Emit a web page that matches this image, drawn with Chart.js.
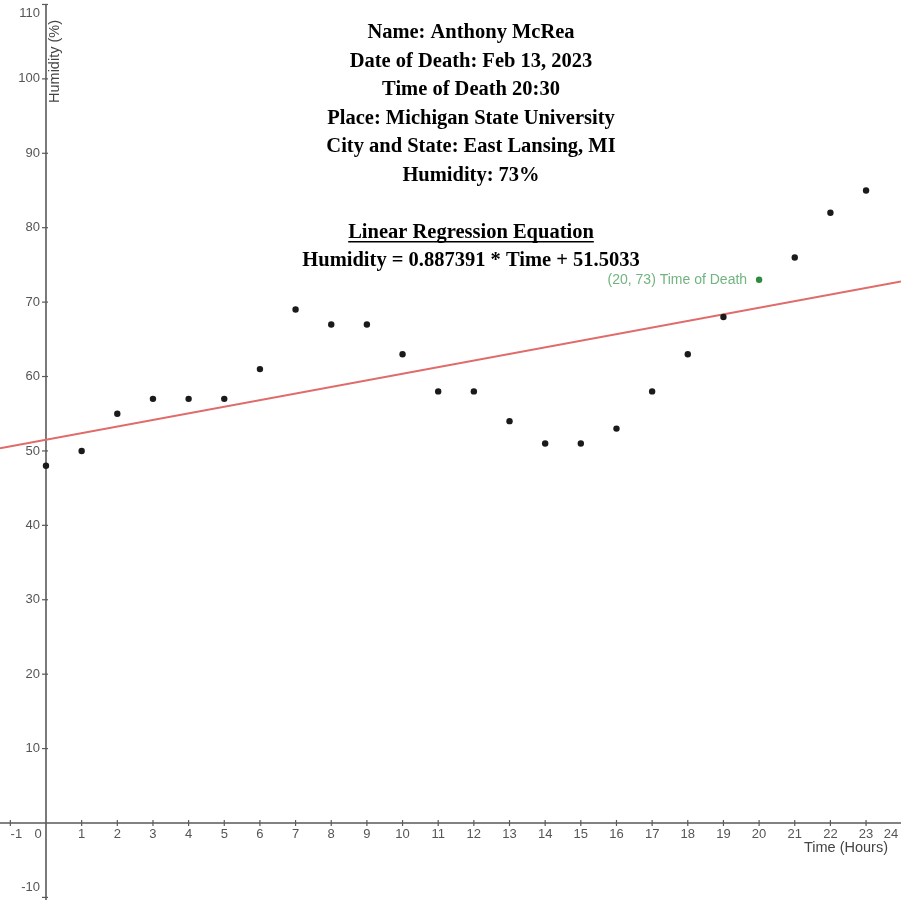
<!DOCTYPE html>
<html>
<head>
<meta charset="utf-8">
<title>Humidity vs Time</title>
<script src="https://cdn.jsdelivr.net/npm/chart.js@4.4.1/dist/chart.umd.min.js"></script>
<style>
    html, body { margin: 0; padding: 0; background: #ffffff; }
    #contenedor { width: 901px; height: 900px; position: relative; }
</style>
</head>
<body>
<div id="contenedor"><canvas id="grafico"></canvas></div>
<script>
// Datos
const horas = [0, 1, 2, 3, 4, 5, 6, 7, 8, 9, 10, 11, 12, 13, 14, 15, 16, 17, 18, 19, 21, 22, 23];
const humedad = [48, 50, 55, 57, 57, 57, 61, 69, 67, 67, 63, 58, 58, 54, 51, 51, 53, 58, 63, 68, 76, 82, 85];
const horaMuerte = [20];
const humedadMuerte = [73];
const etiquetaMuerte = '(20, 73) Time of Death';

// Recta de regresion: Humidity = pendiente * Time + intercepto
const pendiente = 0.887391;
const intercepto = 51.5033;

const ticksX = [-1, 0, 1, 2, 3, 4, 5, 6, 7, 8, 9, 10, 11, 12, 13, 14, 15, 16, 17, 18, 19, 20, 21, 22, 23, 24];
const ticksY = [-10, 10, 20, 30, 40, 50, 60, 70, 80, 90, 100, 110];

const lineasTitulo = [
    'Name: Anthony McRea',
    'Date of Death: Feb 13, 2023',
    'Time of Death 20:30',
    'Place: Michigan State University',
    'City and State: East Lansing, MI',
    'Humidity: 73%'
];
const tituloRegresion = 'Linear Regression Equation';
const ecuacion = 'Humidity = 0.887391 * Time + 51.5033';

const limitesX = [-1.29, 23.98];
const limitesY = [-10.35, 110.6];

const puntosRecta = limitesX.map(x => ({ x: x, y: pendiente * x + intercepto }));

// Ejes cruzando en el origen, dibujados con las escalas de Chart.js
const pluginEjes = {
    id: 'ejes',
    beforeDatasetsDraw(chart) {
        const ctx = chart.ctx;
        const sx = chart.scales.x;
        const sy = chart.scales.y;
        const x0 = sx.getPixelForValue(0);
        const y0 = sy.getPixelForValue(0);
        ctx.save();
        ctx.strokeStyle = '#5a5a5a';
        ctx.lineWidth = 1.6;
        ctx.beginPath();
        ctx.moveTo(0, y0); ctx.lineTo(chart.width, y0);
        ctx.moveTo(x0, 5); ctx.lineTo(x0, chart.height);
        ctx.stroke();

        ctx.lineWidth = 1.2;
        ctx.fillStyle = '#555555';
        ctx.font = '13px "Liberation Sans", Arial, sans-serif';
        ctx.textAlign = 'center';
        ctx.textBaseline = 'top';
        ticksX.forEach(t => {
            const px = sx.getPixelForValue(t);
            if (t !== 0) {
                ctx.beginPath();
                ctx.moveTo(px, y0 - 3); ctx.lineTo(px, y0 + 3);
                ctx.stroke();
            }
            let lx = px;
            if (t === 0) lx = x0 - 8;
            if (t === -1) lx = px + 6;
            if (t === 24) lx = Math.min(px, chart.width - 10);
            ctx.fillText(String(t), lx, y0 + 5);
        });

        ctx.textAlign = 'right';
        ctx.textBaseline = 'middle';
        ticksY.forEach(t => {
            const py = sy.getPixelForValue(t);
            ctx.beginPath();
            ctx.moveTo(x0 - 4, py); ctx.lineTo(x0 + 2, py);
            ctx.stroke();
            let ly = py;
            if (t === 110) ly = Math.max(py, 13);
            if (t === -10) ly = Math.min(py, 887);
            ctx.fillText(String(t), x0 - 6, ly);
        });

        // Titulos de los ejes
        ctx.font = '14.5px "Liberation Sans", Arial, sans-serif';
        ctx.fillStyle = '#444444';
        ctx.textAlign = 'right';
        ctx.fillText('Time (Hours)', 888, y0 + 25);
        ctx.save();
        ctx.translate(x0 + 9, 20);
        ctx.rotate(-Math.PI / 2);
        ctx.textAlign = 'right';
        ctx.textBaseline = 'middle';
        ctx.fillText('Humidity (%)', 0, 0);
        ctx.restore();
        ctx.restore();
    },
    afterDatasetsDraw(chart) {
        const ctx = chart.ctx;
        const sx = chart.scales.x;
        const sy = chart.scales.y;
        ctx.save();
        // Texto de informacion
        ctx.fillStyle = '#000000';
        ctx.font = 'bold 20.5px "Liberation Serif", "Times New Roman", serif';
        ctx.textAlign = 'center';
        ctx.textBaseline = 'middle';
        const cx = 471;
        lineasTitulo.forEach((linea, i) => {
            ctx.fillText(linea, cx, 33 + i * 28.5);
        });
        ctx.fillText(tituloRegresion, cx, 233);
        const ancho = ctx.measureText(tituloRegresion).width;
        ctx.fillRect(cx - ancho / 2, 241, ancho, 1.5);
        ctx.fillText(ecuacion, cx, 261);

        // Etiqueta del punto de la hora de muerte
        ctx.font = '14px "Liberation Sans", Arial, sans-serif';
        ctx.fillStyle = '#72b47f';
        ctx.textAlign = 'right';
        const px = sx.getPixelForValue(horaMuerte[0]);
        const py = sy.getPixelForValue(humedadMuerte[0]);
        ctx.fillText(etiquetaMuerte, px - 12, py);
        ctx.restore();
    }
};

function renderizarGrafico() {
    const ctx = document.getElementById('grafico');
    new Chart(ctx, {
        type: 'scatter',
        data: {
            datasets: [
                {
                    type: 'line',
                    label: 'Regresion',
                    data: puntosRecta,
                    borderColor: '#e06b6b',
                    borderWidth: 2,
                    pointRadius: 0,
                    fill: false,
                    order: 3
                },
                {
                    label: 'Humidity',
                    data: horas.map((h, i) => ({ x: h, y: humedad[i] })),
                    backgroundColor: '#1a1a1a',
                    borderColor: '#1a1a1a',
                    pointRadius: 3.2,
                    pointBorderWidth: 0,
                    order: 1
                },
                {
                    label: 'Time of Death',
                    data: horaMuerte.map((h, i) => ({ x: h, y: humedadMuerte[i] })),
                    backgroundColor: '#2e8b3e',
                    borderColor: '#2e8b3e',
                    pointRadius: 3.2,
                    pointBorderWidth: 0,
                    order: 2
                }
            ]
        },
        options: {
            responsive: true,
            maintainAspectRatio: false,
            animation: false,
            layout: { padding: 0, autoPadding: false },
            plugins: {
                legend: { display: false },
                tooltip: { enabled: false }
            },
            scales: {
                x: { type: 'linear', min: limitesX[0], max: limitesX[1], display: false },
                y: { type: 'linear', min: limitesY[0], max: limitesY[1], display: false }
            }
        },
        plugins: [pluginEjes]
    });
}

document.addEventListener('DOMContentLoaded', () => {
    renderizarGrafico();
});
</script>
</body>
</html>
